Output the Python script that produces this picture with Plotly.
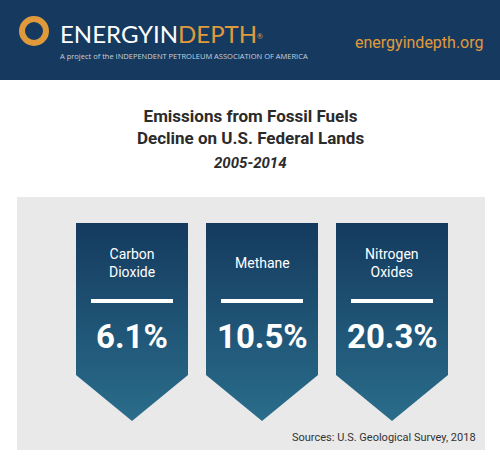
import plotly.graph_objects as go

categories = ["Carbon<br>Dioxide", "Methane", "Nitrogen<br>Oxides"]
declines = [6.1, 10.5, 20.3]

W, H = 500, 457
fig = go.Figure()

# header banner and grey panel
fig.add_shape(type="rect", x0=0, x1=W, y0=0, y1=80, fillcolor="#163a5f", line_width=0, layer="below")
fig.add_shape(type="rect", x0=17, x1=485, y0=197, y1=450, fillcolor="#e9e9ea", line_width=0, layer="below")

# logo mark
fig.add_shape(type="circle", x0=22, x1=46, y0=19, y1=43, line=dict(color="#e09a3c", width=6))
fig.add_annotation(x=58, y=33, text="<span style='color:#ffffff'>ENERGYIN</span><span style='color:#e09a3c'>DEPTH</span><span style='color:#e09a3c;font-size:10px'><sup>®</sup></span>",
                   showarrow=False, xanchor="left", yanchor="middle", font=dict(family="Lato", size=24))
fig.add_annotation(x=58, y=56, text="A project of the INDEPENDENT PETROLEUM ASSOCIATION OF AMERICA",
                   showarrow=False, xanchor="left", yanchor="middle", font=dict(family="Open Sans", size=7.5, color="#c8d0dc"))
fig.add_annotation(x=486, y=42, text="energyindepth.org", showarrow=False, xanchor="right", yanchor="middle",
                   font=dict(family="Roboto", size=16, color="#e09a3c"))

# title
fig.add_annotation(x=250, y=127, text="<b>Emissions from Fossil Fuels<br>Decline on U.S. Federal Lands</b>",
                   showarrow=False, yanchor="middle", font=dict(family="Roboto", size=17, color="#2b2b2b"))
fig.add_annotation(x=250, y=163, text="<b><i>2005-2014</i></b>", showarrow=False, yanchor="middle",
                   font=dict(family="Roboto", size=15, color="#2b2b2b"))

# banners
bw = 112
for i, (cat, val) in enumerate(zip(categories, declines)):
    x0 = 76 + i * 130
    x1 = x0 + bw
    xm = (x0 + x1) / 2
    fig.add_trace(go.Scatter(
        x=[x0, x1, x1, xm, x0, x0], y=[223, 223, 375, 421, 375, 223],
        mode="lines", fill="toself", line=dict(width=0), hoverinfo="skip",
        fillgradient=dict(type="vertical", colorscale=[[0, "#2a6d8b"], [1, "#143a5f"]])))
    fig.add_shape(type="line", x0=x0 + 15, x1=x1 - 15, y0=301, y1=301, line=dict(color="white", width=4))
    fig.add_annotation(x=xm, y=263, text=cat, showarrow=False, yanchor="middle",
                       font=dict(family="Roboto", size=14, color="white"))
    fig.add_annotation(x=xm, y=336, text=f"<b>{val}%</b>", showarrow=False, yanchor="middle",
                       font=dict(family="Roboto", size=33, color="white"))

fig.add_annotation(x=478, y=437, text="Sources: U.S. Geological Survey, 2018", showarrow=False, xanchor="right",
                   yanchor="middle", font=dict(family="Roboto", size=11, color="#333333"))

fig.update_xaxes(range=[0, W], visible=False, fixedrange=True)
fig.update_yaxes(range=[H, 0], visible=False, fixedrange=True)
fig.update_layout(width=W, height=H, margin=dict(l=0, r=0, t=0, b=0), showlegend=False,
                  paper_bgcolor="white", plot_bgcolor="white")
fig.write_html("out.html", config={"displayModeBar": False},
               post_script="document.body.style.margin='0';")
